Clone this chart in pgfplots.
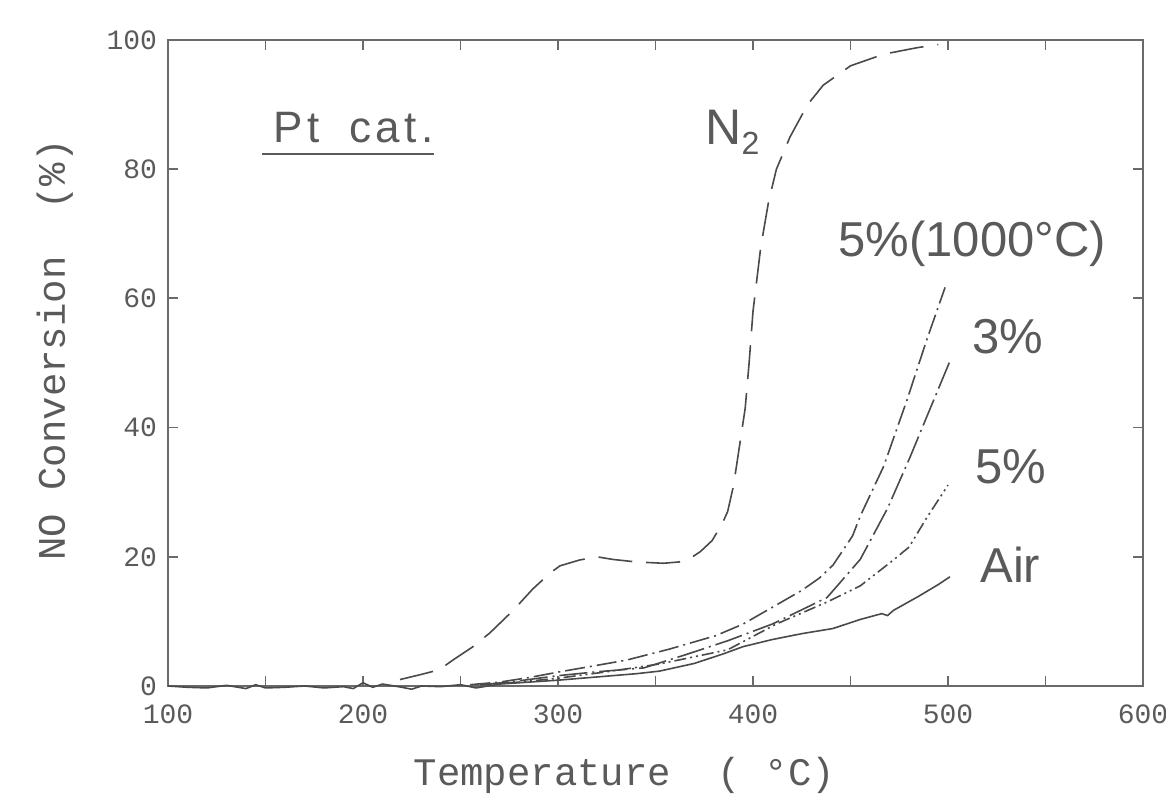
\documentclass[border=0pt]{standalone}
\usepackage{fontspec}
\setmainfont{Liberation Sans}
\setmonofont{Liberation Mono}
\usepackage{pgfplots}
\pgfplotsset{compat=1.18}
\definecolor{ink}{HTML}{4A4A4A}
\definecolor{framec}{HTML}{6A6A6A}
\definecolor{txt}{HTML}{5A5A5A}

\pgfplotstableread{
T v
100 0
110 -0.2
120 -0.3
130 0.1
140 -0.4
145 0.2
150 -0.3
160 -0.2
170 0.0
180 -0.3
190 -0.1
195 -0.4
200 0.5
205 -0.2
210 0.3
220 -0.2
225 -0.5
230 0.0
240 -0.1
250 0.2
258 -0.3
270 0.3
285 0.6
300 0.9
320 1.4
340 1.9
352 2.3
370 3.5
385 5.0
395 6.1
410 7.2
425 8.1
441 8.9
455 10.3
466 11.2
469 10.9
472 11.7
485 13.9
495 15.7
501 16.9
}\airdata

\pgfplotstableread{
T v
255 0.2
270 0.6
285 1.3
301 2.2
320 3.2
335 4.0
357 5.7
381 7.8
395 9.6
410 12.2
425 14.8
434 16.7
441 18.7
451 23.2
455 26.3
467 34.0
479 44.3
489 53.5
498.5 61.7
}\hightdata

\pgfplotstableread{
T v
260 0.2
275 0.6
300 1.6
320 2.2
344 2.8
365 4.8
387 7.0
410 9.6
438 13.7
455 19.6
469 27.5
480.5 35.4
489 41.6
501 50.3
}\threedata

\pgfplotstableread{
T v
260 0.2
280 0.6
300 1.2
325 2.2
352 3.4
387 5.6
412 9.6
438 13.0
455 15.5
472 19.5
480 21.5
489 26.0
500 31.1
}\fivedata

\pgfplotstableread{
T v
219 1.0
230 1.8
239 2.5
247 4.2
256 6.0
265 8.2
277 11.7
287 15.0
296 17.5
301 18.6
311 19.5
320 20.0
328 19.6
340 19.2
354 19.0
362 19.2
368 19.8
373 20.8
379 22.5
384 25.0
387 27.0
390 31.0
393 37.0
396 43.0
398 50.0
400 58.0
402 63.0
404 68.0
408 75.0
412 80.0
419 85.0
428 90.0
436 93.0
450 96.0
467 97.8
484 98.8
495 99.3
}\ntwodata

\begin{document}
\begin{tikzpicture}
\useasboundingbox (0,0) rectangle (583pt,406pt);
\begin{axis}[
  at={(84pt,63pt)}, anchor=south west,
  width=487.5pt, height=323pt, scale only axis,
  xmin=100, xmax=600, ymin=0, ymax=100,
  xtick={100,200,...,600}, minor xtick={150,250,...,550},
  ytick={0,20,...,100},
  tick align=inside, major tick length=5pt, minor tick length=5pt,
  axis line style={framec, line width=1pt},
  every tick/.style={framec, line width=0.9pt},
  ticklabel style={font=\fontsize{14}{14}\selectfont\ttfamily, text=txt},
  xticklabel style={yshift=-6pt},
  yticklabel style={xshift=-2pt},
  /pgf/number format/assume math mode=true,
  xlabel={Temperature\ \ (\ °C)},
  ylabel={NO Conversion\ \ (\%)},
  label style={font=\fontsize{19.5}{20}\selectfont\ttfamily, text=txt},
  xlabel style={at={(axis description cs:0.468,-0.138)}, anchor=center},
  ylabel style={at={(axis description cs:-0.116,0.52)}, anchor=center},
  clip=false,
]
\addplot[ink, line width=0.8pt, no markers] table[x=T,y=v] {\airdata};
\addplot[ink, line width=0.8pt, no markers, dash pattern=on 10pt off 2.5pt on 1pt off 2.5pt] table[x=T,y=v] {\hightdata};
\addplot[ink, line width=0.8pt, no markers, dash pattern=on 14pt off 2.5pt on 1pt off 2.5pt] table[x=T,y=v] {\threedata};
\addplot[ink, line width=0.8pt, no markers, dash pattern=on 6pt off 2pt on 1pt off 2pt on 1pt off 2pt] table[x=T,y=v] {\fivedata};
\addplot[ink, line width=0.8pt, no markers, dash pattern=on 17pt off 7pt] table[x=T,y=v] {\ntwodata};

\node[anchor=base west, inner sep=0pt, text=txt, font=\fontsize{22}{22}\selectfont\addfontfeature{LetterSpace=10}] at (axis cs:153.8,84.1) {Pt};
\node[anchor=base west, inner sep=0pt, text=txt, font=\fontsize{22}{22}\selectfont\addfontfeature{LetterSpace=10}] at (axis cs:192.8,84.1) {cat.};
\draw[txt, line width=0.9pt] (axis cs:148.2,82.4) -- (axis cs:236.4,82.4);
\node[anchor=base west, inner sep=0pt, text=txt, font=\fontsize{25}{25}\selectfont] at (axis cs:375.4,83.8) {N\raisebox{-0.2em}{\fontsize{16}{16}\selectfont 2}};
\node[anchor=base west, inner sep=0pt, text=txt, font=\fontsize{24.5}{25}\selectfont] at (axis cs:443.6,66.5) {5\%(1000°C)};
\node[anchor=base west, inner sep=0pt, text=txt, font=\fontsize{24.5}{25}\selectfont] at (axis cs:512.3,51.5) {3\%};
\node[anchor=base west, inner sep=0pt, text=txt, font=\fontsize{24.5}{25}\selectfont] at (axis cs:513.8,31.3) {5\%};
\node[anchor=base west, inner sep=0pt, text=txt, font=\fontsize{24.5}{25}\selectfont] at (axis cs:516.4,16.0) {Air};
\end{axis}
\end{tikzpicture}
\end{document}
